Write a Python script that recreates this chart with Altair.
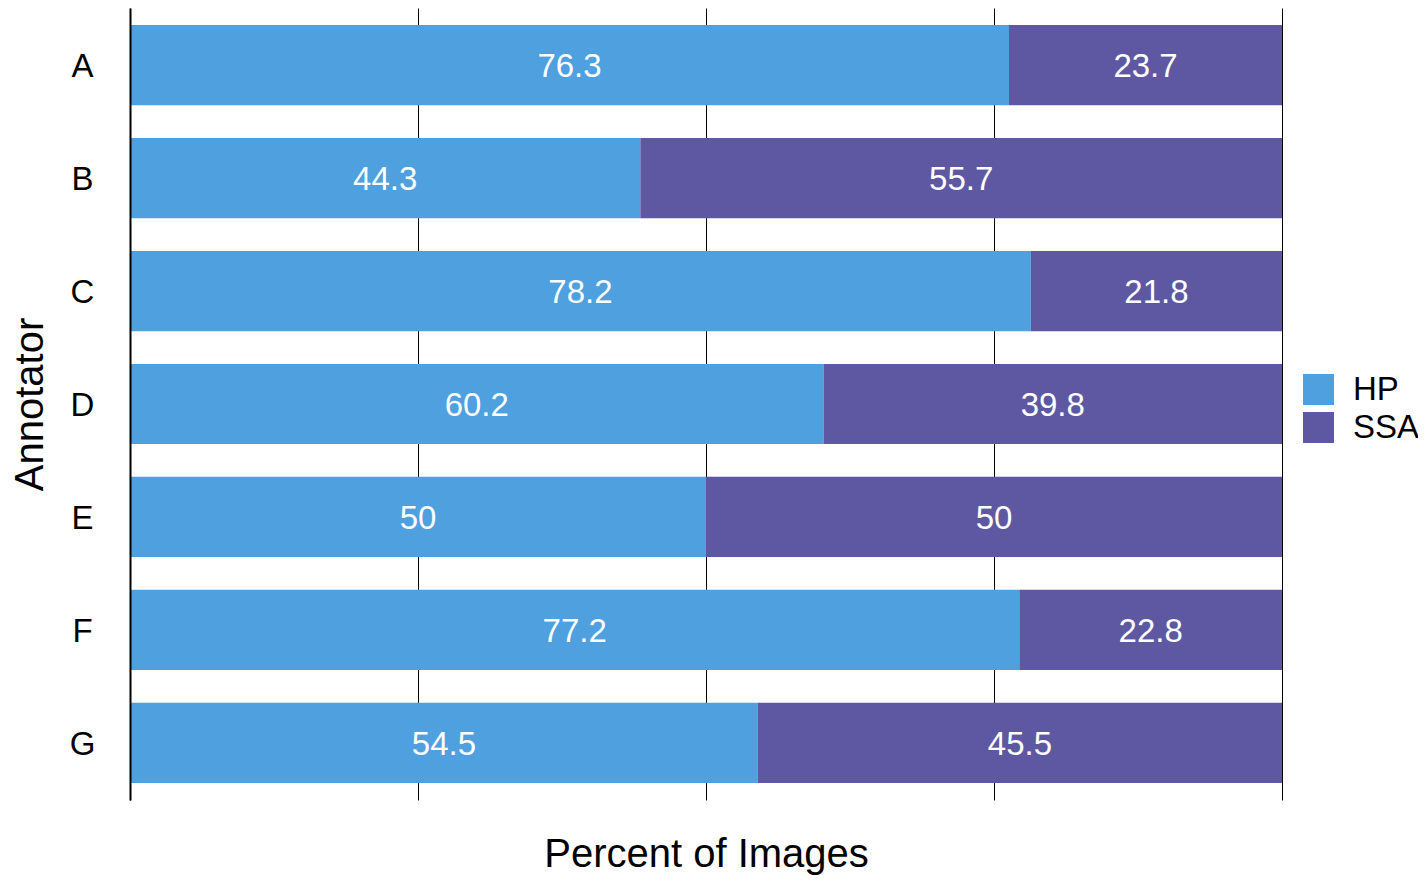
import altair as alt
import pandas as pd

annotators = ["A", "B", "C", "D", "E", "F", "G"]
hp = [76.3, 44.3, 78.2, 60.2, 50, 77.2, 54.5]
ssa = [23.7, 55.7, 21.8, 39.8, 50, 22.8, 45.5]
groups = ["HP", "SSA"]
colors = ["#4FA0DF", "#5E58A2"]

rows = []
for a, h, s in zip(annotators, hp, ssa):
    rows.append({"Annotator": a, "Group": "HP", "value": h, "x0": 0, "x1": h, "mid": h / 2})
    rows.append({"Annotator": a, "Group": "SSA", "value": s, "x0": h, "x1": h + s, "mid": h + s / 2})
df = pd.DataFrame(rows)

font = "Liberation Sans"

yenc = alt.Y("Annotator:N", sort=annotators,
             scale=alt.Scale(paddingInner=0.29, paddingOuter=0.15),
             axis=alt.Axis(title="Annotator", titleFontSize=40, titleFont=font, titleFontWeight="normal",
                           titleColor="black", titlePadding=19,
                           labelFontSize=33, labelFont=font, labelColor="black", labelAlign="center",
                           labelPadding=48, labelOffset=2, ticks=False, domain=True, domainColor="black",
                           domainWidth=2, grid=False, zindex=1))

bars = alt.Chart(df).mark_bar().encode(
    x=alt.X("x0:Q", scale=alt.Scale(domain=[0, 100], nice=False),
            axis=alt.Axis(title="Percent of Images", titleFontSize=40, titleFont=font,
                          titleFontWeight="normal", titleColor="black", titlePadding=34,
                          labels=False, ticks=False, domain=False, grid=True,
                          gridColor="black", gridWidth=1, gridOpacity=1,
                          values=[0, 25, 50, 75, 100])),
    x2="x1:Q",
    y=yenc,
    color=alt.Color("Group:N", scale=alt.Scale(domain=groups, range=colors),
                    legend=alt.Legend(title=None, orient="none", legendX=1172, legendY=365,
                                      symbolType="square", symbolSize=961, symbolStrokeWidth=0,
                                      labelFontSize=33, labelFont=font, labelColor="black",
                                      rowPadding=4, labelOffset=18, symbolOpacity=1)),
)

text = alt.Chart(df).mark_text(color="white", fontSize=33, font=font, baseline="middle",
                               align="center", dy=2).encode(
    x=alt.X("mid:Q"),
    y=alt.Y("Annotator:N", sort=annotators),
    text=alt.Text("value:Q"),
)

chart = alt.layer(bars, text).properties(
    width=1152, height=792,
    autosize=alt.AutoSizeParams(type="none"),
    padding={"left": 122, "top": 0, "right": 136, "bottom": 78},
).configure_view(stroke=None)

chart.save("out.html", embed_options={"renderer": "svg", "actions": False})
